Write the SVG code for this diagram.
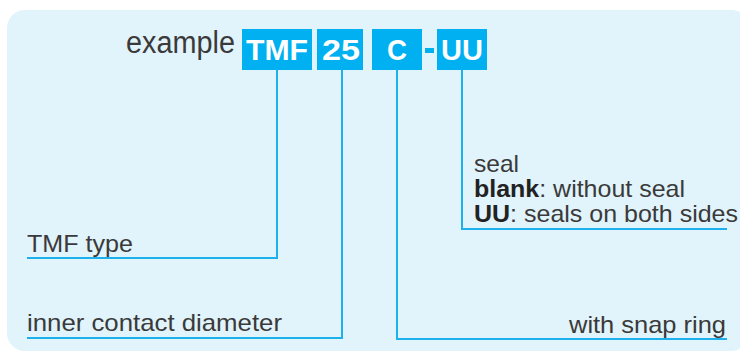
<svg xmlns="http://www.w3.org/2000/svg" width="740" height="353" viewBox="0 0 740 353">
<style>
.code{fill:#00b0f0}
.ct{font-family:"Liberation Sans",Arial,sans-serif;font-weight:bold;font-size:30px;fill:#ffffff;text-anchor:middle}
.lbl{font-family:"Liberation Sans",Arial,sans-serif;font-size:24px;fill:#3a3a3a}
.big{font-size:31px}
.b{font-weight:bold;fill:#222222}
.conn{fill:none;stroke:#1cb0ec;stroke-width:2}
</style>
<rect x="7" y="10" width="742" height="341" rx="18" ry="18" fill="#e1f3fb"/>
<g id="example">
<text class="lbl big" x="126" y="53" textLength="109" lengthAdjust="spacingAndGlyphs">example</text>
</g>
<g id="code-tmf">
<rect class="code" x="242" y="29" width="70" height="41"/>
<text class="ct" x="277" y="60" textLength="62" lengthAdjust="spacingAndGlyphs">TMF</text>
</g>
<g id="code-25">
<rect class="code" x="317" y="29" width="46" height="41"/>
<text class="ct" x="341" y="60" textLength="38" lengthAdjust="spacingAndGlyphs">25</text>
</g>
<g id="code-c">
<rect class="code" x="372" y="29" width="50" height="41"/>
<text class="ct" x="397" y="60" textLength="20" lengthAdjust="spacingAndGlyphs">C</text>
</g>
<g id="dash">
<rect class="code" x="425" y="48" width="9" height="5"/>
</g>
<g id="code-uu">
<rect class="code" x="437" y="29" width="50" height="41"/>
<text class="ct" x="462" y="60" textLength="42" lengthAdjust="spacingAndGlyphs">UU</text>
</g>
<g id="connectors">
<polyline class="conn" points="277,70 277,258 27,258"/>
<polyline class="conn" points="342,70 342,338 27,338"/>
<polyline class="conn" points="397,70 397,339 727,339"/>
<polyline class="conn" points="462,70 462,229 727,229"/>
</g>
<g id="label-type">
<text class="lbl" x="27" y="252" textLength="106" lengthAdjust="spacingAndGlyphs">TMF type</text>
</g>
<g id="label-diameter">
<text class="lbl" x="27" y="331" textLength="255" lengthAdjust="spacingAndGlyphs">inner contact diameter</text>
</g>
<g id="label-snap">
<text class="lbl" x="569" y="333" textLength="157" lengthAdjust="spacingAndGlyphs">with snap ring</text>
</g>
<g id="label-seal">
<text class="lbl" x="474" y="172" textLength="45" lengthAdjust="spacingAndGlyphs">seal</text>
<text class="lbl" x="474" y="197" textLength="211" lengthAdjust="spacingAndGlyphs"><tspan class="b">blank</tspan>: without seal</text>
<text class="lbl" x="474" y="222" textLength="264" lengthAdjust="spacingAndGlyphs"><tspan class="b">UU</tspan>: seals on both sides</text>
</g>
</svg>
